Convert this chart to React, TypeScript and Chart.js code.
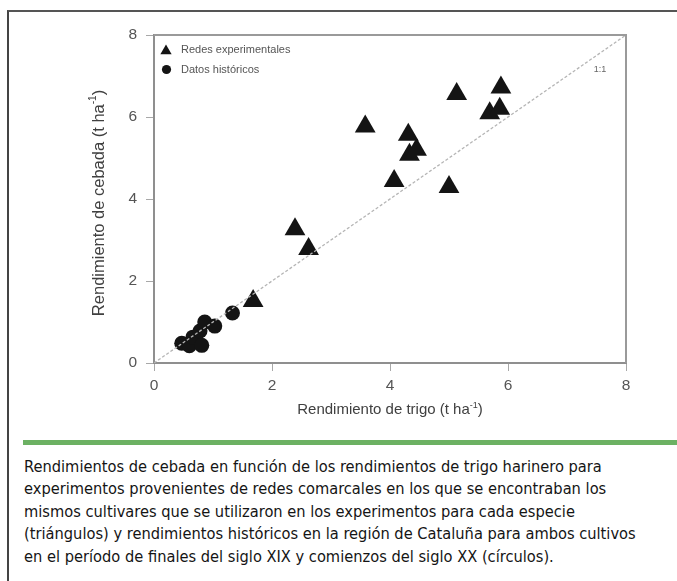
import React, { useEffect, useRef } from 'react';
import { Chart, registerables } from 'chart.js';

Chart.register(...registerables);

// ---------- data ----------
const experimentalX = [1.68, 2.39, 2.62, 3.58, 4.31, 4.33, 4.45, 4.07, 5.0, 5.13, 5.88, 5.69, 5.86];
const experimentalY = [1.51, 3.26, 2.78, 5.77, 5.57, 5.08, 5.2, 4.44, 4.29, 6.56, 6.72, 6.09, 6.2];
const historicX = [0.47, 0.6, 0.66, 0.78, 0.81, 0.86, 1.03, 1.33];
const historicY = [0.48, 0.42, 0.63, 0.78, 0.43, 1.0, 0.9, 1.22];
const oneToOneX = [0, 8];
const oneToOneY = [0, 8];
const axisTicks = [0, 2, 4, 6, 8];
const seriesNames = ['Redes experimentales', 'Datos históricos'];
const xTitleParts = ['Rendimiento de trigo (t ha', '-1', ')'];
const yTitleParts = ['Rendimiento de cebada (t ha', '-1', ')'];
const ratioLabel = '1:1';
const ratioLabelPos = [7.56, 7.15];
const captionLines = [
  'Rendimientos de cebada en función de los rendimientos de trigo harinero para',
  'experimentos provenientes de redes comarcales en los que se encontraban los',
  'mismos cultivares que se utilizaron en los experimentos para cada especie',
  '(triángulos) y rendimientos históricos en la región de Cataluña para ambos cultivos',
  'en el período de finales del siglo XIX y comienzos del siglo XX (círculos).',
];

const FONT = '"Liberation Sans", Arial, Helvetica, sans-serif';
const MARK = '#141414';

function drawTri(ctx: CanvasRenderingContext2D, x: number, y: number, r: number) {
  ctx.beginPath();
  ctx.moveTo(x, y - r);
  ctx.lineTo(x + 0.866 * r, y + 0.5 * r);
  ctx.lineTo(x - 0.866 * r, y + 0.5 * r);
  ctx.closePath();
  ctx.fill();
}

function drawSupTitle(
  ctx: CanvasRenderingContext2D,
  parts: string[],
  cx: number,
  cy: number,
  rot: number,
  size: number,
) {
  const main = `${size}px ${FONT}`;
  const sup = `${Math.round(size * 0.63)}px ${FONT}`;
  ctx.save();
  ctx.translate(cx, cy);
  ctx.rotate(rot);
  ctx.font = main;
  const w0 = ctx.measureText(parts[0]).width;
  const w2 = ctx.measureText(parts[2]).width;
  ctx.font = sup;
  const w1 = ctx.measureText(parts[1]).width;
  const total = w0 + w1 + w2;
  let x = -total / 2;
  ctx.fillStyle = '#404040';
  ctx.textBaseline = 'middle';
  ctx.textAlign = 'left';
  ctx.font = main;
  ctx.fillText(parts[0], x, 0);
  x += w0;
  ctx.font = sup;
  ctx.fillText(parts[1], x, -size * 0.32);
  x += w1;
  ctx.font = main;
  ctx.fillText(parts[2], x, 0);
  ctx.restore();
}

const decorPlugin = {
  id: 'decor',
  afterDraw(chart: any) {
    const { ctx, chartArea: a, scales } = chart;
    const xs = scales.x;
    const ys = scales.y;
    ctx.save();
    // frame (top and right)
    ctx.strokeStyle = '#9a9a9a';
    ctx.lineWidth = 2;
    ctx.beginPath();
    ctx.moveTo(a.left, a.top);
    ctx.lineTo(a.right, a.top);
    ctx.lineTo(a.right, a.bottom);
    ctx.stroke();

    // legend
    ctx.fillStyle = MARK;
    drawTri(ctx, a.left + 12, a.top + 16, 6.5);
    ctx.beginPath();
    ctx.arc(a.left + 12.5, a.top + 34.5, 4.6, 0, Math.PI * 2);
    ctx.fill();
    ctx.fillStyle = '#555';
    ctx.font = `11px ${FONT}`;
    ctx.textBaseline = 'middle';
    ctx.textAlign = 'left';
    ctx.fillText(seriesNames[0], a.left + 27, a.top + 14.5);
    ctx.fillText(seriesNames[1], a.left + 27, a.top + 34.5);

    // 1:1 label
    ctx.font = `9px ${FONT}`;
    ctx.fillStyle = '#666';
    ctx.textAlign = 'center';
    ctx.fillText(ratioLabel, xs.getPixelForValue(ratioLabelPos[0]), ys.getPixelForValue(ratioLabelPos[1]));
    ctx.restore();

    // axis titles
    drawSupTitle(ctx, xTitleParts, (a.left + a.right) / 2, a.bottom + 47, 0, 15);
    drawSupTitle(ctx, yTitleParts, 99, ys.getPixelForValue(4) + 4, -Math.PI / 2, 16.5);
  },
};

function ScatterChart() {
  const ref = useRef<HTMLCanvasElement | null>(null);
  useEffect(() => {
    if (!ref.current) return;
    const axisCommon = (which: 'x' | 'y') => ({
      type: 'linear' as const,
      min: 0,
      max: 8,
      afterBuildTicks: (s: any) => {
        s.ticks = axisTicks.map((v) => ({ value: v }));
      },
      afterFit: (s: any) => {
        if (which === 'x') s.height = 50;
        else s.width = 60;
      },
      border: { display: true, color: '#8f8f8f', width: 2 },
      grid: {
        drawOnChartArea: false,
        drawTicks: true,
        tickLength: 8,
        color: '#a8a8a8',
        lineWidth: 1,
      },
      ticks: {
        color: '#555',
        padding: which === 'x' ? 5 : 9,
        font: { size: 15.5, family: FONT },
        maxRotation: 0,
      },
      title: { display: false },
    });
    const chart = new Chart(ref.current, {
      type: 'scatter',
      data: {
        datasets: [
          {
            label: '1:1',
            type: 'line',
            data: oneToOneX.map((x, i) => ({ x, y: oneToOneY[i] })),
            borderColor: '#b5b5b5',
            borderWidth: 1.3,
            borderDash: [3, 2],
            pointRadius: 0,
            fill: false,
          },
          {
            label: seriesNames[0],
            data: experimentalX.map((x, i) => ({ x, y: experimentalY[i] })),
            pointStyle: 'triangle',
            pointRadius: 12,
            backgroundColor: MARK,
            borderColor: MARK,
            borderWidth: 0,
          },
          {
            label: seriesNames[1],
            data: historicX.map((x, i) => ({ x, y: historicY[i] })),
            pointStyle: 'circle',
            pointRadius: 7.5,
            backgroundColor: MARK,
            borderColor: MARK,
            borderWidth: 0,
          },
        ],
      },
      options: {
        animation: false,
        responsive: false,
        devicePixelRatio: 1,
        layout: { padding: { left: 94, right: 51, top: 35, bottom: 17 } },
        plugins: {
          legend: { display: false },
          tooltip: { enabled: false },
        },
        scales: {
          x: axisCommon('x'),
          y: axisCommon('y'),
        },
      },
      plugins: [decorPlugin],
    });
    return () => chart.destroy();
  }, []);
  return (
    <canvas
      ref={ref}
      width={677}
      height={430}
      style={{ position: 'absolute', left: 0, top: 0, width: 677, height: 430 }}
    />
  );
}

export default function App() {
  return (
    <div
      style={{
        position: 'absolute',
        left: 0,
        top: 0,
        width: 677,
        height: 581,
        overflow: 'hidden',
        background: '#fff',
      }}
    >
      <div
        style={{
          position: 'absolute',
          left: 7,
          top: 10,
          width: 700,
          height: 600,
          borderTop: '2px solid #555',
          borderLeft: '2px solid #444',
          boxSizing: 'border-box',
        }}
      />
      <ScatterChart />
      <div
        style={{
          position: 'absolute',
          left: 23,
          top: 440,
          width: 660,
          height: 5,
          background: '#6cb163',
        }}
      />
      <div
        style={{
          position: 'absolute',
          left: 24,
          top: 456,
          fontFamily: '"DejaVu Sans Condensed", "DejaVu Sans", sans-serif',
          fontStretch: 'condensed',
          fontSize: 16.3,
          lineHeight: '22.4px',
          color: '#151515',
          whiteSpace: 'nowrap',
        }}
      >
        {captionLines.map((l, i) => (
          <div key={i}>{l}</div>
        ))}
      </div>
    </div>
  );
}
